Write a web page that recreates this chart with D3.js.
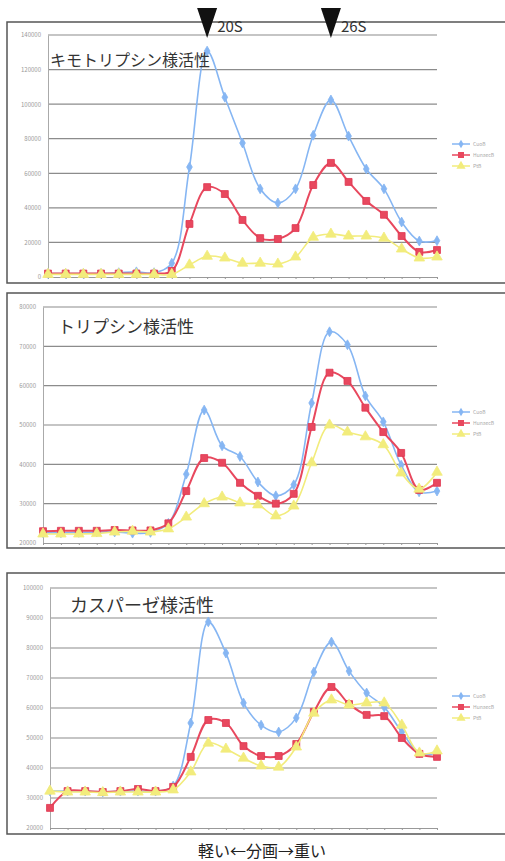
<!DOCTYPE html>
<html lang="ja">
<head>
<meta charset="UTF-8">
<title>活性プロファイル</title>
<style>
  body { margin: 0; background: #fff; }
  text { font-family: "Noto Sans CJK JP", "Noto Sans", sans-serif; }
</style>
</head>
<body>
<div id="graph"></div>
<script src="https://d3js.org/d3.v7.min.js"></script>
<script>
    // fractions (light -> heavy)
    var categories = [1, 2, 3, 4, 5, 6, 7, 8, 9, 10, 11, 12, 13, 14, 15, 16, 17, 18, 19, 20, 21, 22, 23];
    var seriesNames = ["CuoB", "HunaecB", "PtB"];

    // chymotrypsin-like
    var chymoCuo = [2000, 2000, 2000, 2000, 2500, 3000, 2500, 8000, 63600, 130700, 104000, 77500, 51000, 42800, 51000, 82000, 102400, 81500, 62500, 51000, 31800, 20800, 21000];
    var chymoHun = [2000, 2000, 2000, 2000, 2000, 2000, 2000, 3500, 30700, 52000, 48000, 33000, 22500, 22000, 28300, 53200, 66000, 55000, 44000, 36000, 23700, 14500, 15600];
    var chymoPt = [1500, 1500, 1500, 1500, 1500, 1500, 1500, 1500, 7000, 12000, 11000, 8000, 8000, 7500, 11600, 23000, 24800, 23700, 23700, 22500, 16200, 11000, 11600];
    var chymoTicks = [0, 20000, 40000, 60000, 80000, 100000, 120000, 140000];

    // trypsin-like
    var trypCuo = [22600, 22600, 22700, 22800, 22800, 22500, 22700, 25000, 37500, 53800, 44700, 42000, 35500, 32000, 34800, 55600, 73700, 70400, 57400, 50800, 39800, 33000, 33200];
    var trypHun = [23000, 23100, 23100, 23100, 23300, 23200, 23200, 25000, 33200, 41600, 40400, 35300, 32000, 30000, 32500, 49500, 63300, 61200, 54400, 48200, 42900, 33500, 35300];
    var trypPt = [22300, 22300, 22300, 22400, 22800, 23000, 22800, 23600, 26600, 30000, 31700, 30200, 29700, 26900, 29400, 40400, 50000, 48200, 47000, 45000, 37800, 33700, 38000];
    var trypTicks = [20000, 30000, 40000, 50000, 60000, 70000, 80000];

    // caspase-like
    var caspCuo = [32300, 32300, 32300, 32000, 32300, 32300, 32300, 34000, 55000, 88700, 78300, 61700, 54300, 52000, 56700, 72000, 82000, 72300, 65000, 60300, 52000, 45000, 44700];
    var caspHun = [26700, 32300, 32300, 32000, 32300, 33000, 32300, 33700, 43700, 56000, 55000, 47300, 44000, 44000, 48000, 58700, 67000, 61300, 57700, 57300, 50000, 44700, 43700];
    var caspPt = [32300, 32000, 32000, 31800, 32000, 32000, 32000, 32700, 38700, 48300, 46300, 43300, 40700, 40300, 47000, 58300, 62700, 61000, 61700, 61700, 54300, 45000, 45700];
    var caspTicks = [20000, 30000, 40000, 50000, 60000, 70000, 80000, 90000, 100000];

    var peakLabels = ["20S", "26S"];
    var peakIndex = [9, 16];

    var colors = ["#86b6f3", "#e8485e", "#f2ec7c"];
    var symbols = [d3.symbolDiamond, d3.symbolSquare, d3.symbolTriangle];

    var svg = d3.select("#graph").append("svg")
        .attr("width", 505)
        .attr("height", 861);

    var panels = [
        { title: "キモトリプシン様活性", series: [chymoCuo, chymoHun, chymoPt], ticks: chymoTicks,
          box: [7, 22, 283], x: [48, 437], y: [277, 35], titleX: 50, titleY: 66, titleSize: 16, legendY: 144 },
        { title: "トリプシン様活性", series: [trypCuo, trypHun, trypPt], ticks: trypTicks,
          box: [7, 293, 548], x: [43, 437], y: [543, 307], titleX: 58, titleY: 333, titleSize: 17, legendY: 412 },
        { title: "カスパーゼ様活性", series: [caspCuo, caspHun, caspPt], ticks: caspTicks,
          box: [7, 573, 834], x: [50, 437], y: [828, 588], titleX: 70, titleY: 612, titleSize: 18, legendY: 696 }
    ];

    var firstX;

    panels.forEach(function(p, pi) {
        var g = svg.append("g");

        // outer frame
        g.append("path")
            .attr("d", "M510," + p.box[1] + "H" + p.box[0] + "V" + p.box[2] + "H510")
            .attr("fill", "none")
            .attr("stroke", "#555")
            .attr("stroke-width", 1.5);

        var x = d3.scalePoint().domain(categories).range(p.x);
        var y = d3.scaleLinear().domain(d3.extent(p.ticks)).range(p.y);
        if (pi === 0) firstX = x;

        // gridlines
        g.selectAll(".grid").data(p.ticks.slice(1)).enter().append("line")
            .attr("x1", p.x[0]).attr("x2", p.x[1])
            .attr("y1", function(d) { return y(d); })
            .attr("y2", function(d) { return y(d); })
            .attr("stroke", "#8c8c8c")
            .attr("stroke-width", 1.2);

        // y axis
        var ya = g.append("g")
            .attr("transform", "translate(" + p.x[0] + ",0)")
            .call(d3.axisLeft(y).tickValues(p.ticks).tickSize(0).tickPadding(7).tickFormat(d3.format("d")));
        ya.select(".domain").attr("stroke", "#aaa");
        ya.selectAll("text").attr("fill", "#999").style("font-size", "6px");

        // x axis
        var xa = g.append("g")
            .attr("transform", "translate(0," + p.y[0] + ")")
            .call(d3.axisBottom(x).tickSize(2).tickFormat(""));
        xa.select(".domain").attr("stroke", "#999");
        xa.selectAll(".tick line").attr("stroke", "#999");

        // series
        var line = d3.line()
            .x(function(d, i) { return x(categories[i]); })
            .y(function(d) { return y(d); })
            .curve(d3.curveCatmullRom.alpha(0.5));

        p.series.forEach(function(s, si) {
            g.append("path")
                .attr("d", line(s))
                .attr("fill", "none")
                .attr("stroke", colors[si])
                .attr("stroke-width", si === 1 ? 2 : 1.6);

            g.selectAll(".m" + si).data(s).enter().append("path")
                .attr("transform", function(d, i) { return "translate(" + x(categories[i]) + "," + y(d) + ")"; })
                .attr("d", d3.symbol().type(symbols[si]).size(si === 0 ? 28 : 48))
                .attr("fill", colors[si])
                .attr("stroke", si === 1 ? "#e03650" : colors[si])
                .attr("stroke-width", 0.8);
        });

        // title
        g.append("text")
            .attr("x", p.titleX).attr("y", p.titleY)
            .attr("fill", "#333")
            .style("font-size", p.titleSize + "px")
            .text(p.title);

        // legend
        seriesNames.forEach(function(name, si) {
            var ly = p.legendY + si * 11;
            g.append("line")
                .attr("x1", 452).attr("x2", 470).attr("y1", ly).attr("y2", ly)
                .attr("stroke", colors[si]).attr("stroke-width", 1.5);
            g.append("path")
                .attr("transform", "translate(461," + ly + ")")
                .attr("d", d3.symbol().type(symbols[si]).size(si === 0 ? 22 : 36))
                .attr("fill", colors[si]);
            g.append("text")
                .attr("x", 473).attr("y", ly + 2)
                .attr("fill", "#aaa")
                .style("font-size", "5px")
                .text(name);
        });
    });

    // sedimentation markers
    peakIndex.forEach(function(idx, k) {
        var px = firstX(categories[idx]);
        svg.append("path")
            .attr("d", "M" + (px - 10) + ",8L" + (px + 10) + ",8L" + px + ",38Z")
            .attr("fill", "#111");
        svg.append("text")
            .attr("x", px + 10).attr("y", 32)
            .attr("fill", "#333")
            .style("font-size", "15px")
            .text(peakLabels[k]);
    });

    // x axis title
    svg.append("text")
        .attr("x", 262).attr("y", 857)
        .attr("text-anchor", "middle")
        .attr("fill", "#222")
        .style("font-size", "16px")
        .text("軽い←分画→重い");
</script>
</body>
</html>
